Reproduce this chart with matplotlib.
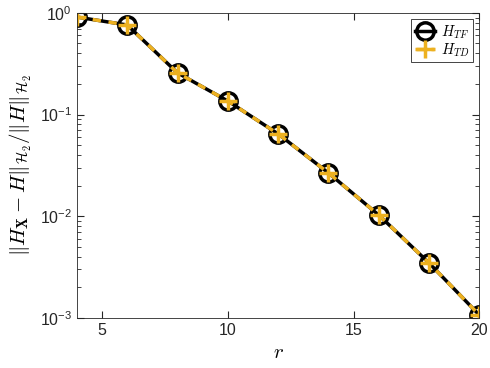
import numpy as np
from matplotlib import pyplot as plt

# reduction order and relative H2 errors
r = [4, 6, 8, 10, 12, 14, 16, 18, 20]
err_tf = [0.91, 0.76, 0.257, 0.136, 0.0646, 0.0267, 0.0103, 0.00348, 0.00107]
err_td = [0.91, 0.76, 0.257, 0.136, 0.0646, 0.0267, 0.0103, 0.00348, 0.00107]

plt.rcParams['mathtext.fontset'] = 'cm'
plt.rcParams['font.family'] = ['Liberation Sans', 'DejaVu Sans']

fig = plt.figure(figsize=(4.9, 3.68), dpi=100)
ax = fig.add_axes([0.157, 0.136, 0.821, 0.829])

ax.semilogy(r, err_tf, '-o', color='k', lw=2.5, ms=12.5, mew=2.5,
            mfc='none', label='$H_{TF}$')
ax.semilogy(r, err_td, '--+', color='#EDB120', lw=2.5, ms=13, mew=2.5,
            label='$H_{TD}$', dashes=(2.4, 2.2))

ax.set_xlim(4, 20)
ax.set_ylim(1e-3, 1)
ax.set_xticks([5, 10, 15, 20])
ax.set_yticks([1e-3, 1e-2, 1e-1, 1e0])
ax.tick_params(which='both', direction='in', top=True, right=True,
               colors='#262626', labelsize=11.5)
ax.tick_params(which='major', length=5)
ax.tick_params(which='minor', length=3)
for s in ax.spines.values():
    s.set_color('#262626')
    s.set_linewidth(0.6)

ax.set_xlabel('$r$', fontsize=15)
ax.set_ylabel(r'$\|H_{\mathbf{X}}-H\|_{\mathcal{H}_2}/\|H\|_{\mathcal{H}_2}$',
              fontsize=15)

leg = ax.legend(loc='upper right', fontsize=10.5, handlelength=1.4,
                fancybox=False, framealpha=1, edgecolor='#262626',
                borderpad=0.25, labelspacing=0.05, handletextpad=0.4,
                borderaxespad=0.45)
leg.get_frame().set_linewidth(0.6)

fig.savefig('out.png', dpi=100)
